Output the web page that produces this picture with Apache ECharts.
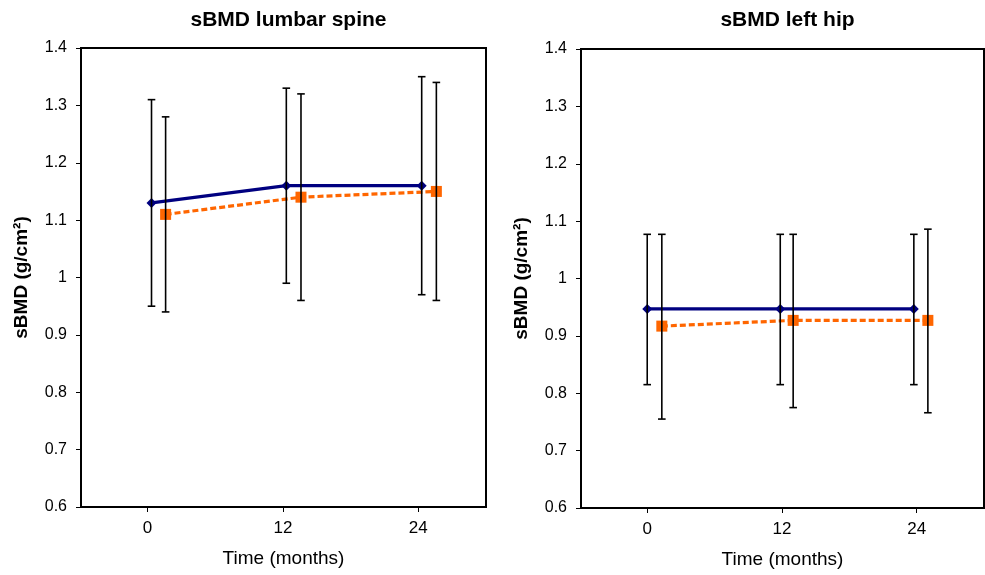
<!DOCTYPE html>
<html><head><meta charset="utf-8">
<script src="https://cdn.jsdelivr.net/npm/echarts@6/dist/echarts.min.js"></script>
<style>html,body{margin:0;background:#fff}#c{width:985px;height:575px}</style></head>
<body><div id="c"></div><script>
const titles=['sBMD lumbar spine','sBMD left hip'];
const xTicks=[0,12,24];
const yTicks=[0.6,0.7,0.8,0.9,1,1.1,1.2,1.3,1.4];
// lumbar spine
const spineBlueX=[0.35,12.3,24.3];
const spineBlue=[1.13,1.16,1.16];
const spineBlueLow=[0.95,0.99,0.97];
const spineBlueHigh=[1.31,1.33,1.35];
const spineOrangeX=[1.6,13.6,25.6];
const spineOrange=[1.11,1.14,1.15];
const spineOrangeLow=[0.94,0.96,0.96];
const spineOrangeHigh=[1.28,1.32,1.34];
// left hip
const hipBlueX=[0,11.85,23.75];
const hipBlue=[0.947,0.947,0.947];
const hipBlueLow=[0.815,0.815,0.815];
const hipBlueHigh=[1.077,1.077,1.077];
const hipOrangeX=[1.3,13.0,25.0];
const hipOrange=[0.917,0.927,0.927];
const hipOrangeLow=[0.755,0.775,0.766];
const hipOrangeHigh=[1.077,1.077,1.086];

const FONT='Liberation Sans';
const chart=echarts.init(document.getElementById('c'));
const grids=[{left:81,top:48,width:405,height:459},{left:581,top:49,width:403,height:459}];
function pts(xs,ys){return xs.map((x,i)=>[x,ys[i]]);}
function bars(xs,lo,hi){return xs.map((x,i)=>[x,lo[i],hi[i]]);}
function errSeries(idx,data){
  return {type:'custom',xAxisIndex:idx,yAxisIndex:idx,z:5,data:data,
    renderItem:function(params,api){
      const top=api.coord([api.value(0),api.value(2)]);
      const bot=api.coord([api.value(0),api.value(1)]);
      const st={stroke:'#000',lineWidth:1.6};
      const w=3.8;
      return {type:'group',children:[
        {type:'line',shape:{x1:top[0],y1:top[1],x2:bot[0],y2:bot[1]},style:st},
        {type:'line',shape:{x1:top[0]-w,y1:top[1],x2:top[0]+w,y2:top[1]},style:st},
        {type:'line',shape:{x1:bot[0]-w,y1:bot[1],x2:bot[0]+w,y2:bot[1]},style:st}
      ]};
    }};
}
function blueLine(idx,data){
  return {type:'line',xAxisIndex:idx,yAxisIndex:idx,data:data,z:3,
    symbol:'diamond',symbolSize:10,itemStyle:{color:'#000080'},
    lineStyle:{color:'#000080',width:3.2}};
}
function orangeLine(idx,data){
  return {type:'line',xAxisIndex:idx,yAxisIndex:idx,data:data,z:3,
    symbol:'rect',symbolSize:11,itemStyle:{color:'#FF6600'},
    lineStyle:{color:'#FF6600',width:3.2,type:[6,3]}};
}
const xAxes=grids.map((g,i)=>({type:'value',gridIndex:i,min:-5.9,max:30,
  name:'Time (months)',nameLocation:'middle',nameGap:42,
  nameTextStyle:{fontFamily:FONT,fontSize:19,color:'#000'},
  axisLine:{show:true,onZero:false,lineStyle:{color:'#000',width:2}},
  axisTick:{show:true,length:5,customValues:xTicks,lineStyle:{color:'#000',width:1}},
  axisLabel:{customValues:xTicks,margin:13,fontFamily:FONT,fontSize:17,color:'#000'},
  splitLine:{show:false}}));
const yAxes=grids.map((g,i)=>({type:'value',gridIndex:i,min:0.6,max:1.4,interval:0.1,
  name:'sBMD (g/cm²)',nameLocation:'middle',nameGap:50,
  nameTextStyle:{fontFamily:FONT,fontSize:19,fontWeight:'bold',color:'#000'},
  axisLine:{show:true,onZero:false,lineStyle:{color:'#000',width:2}},
  axisTick:{show:true,length:5,lineStyle:{color:'#000',width:1}},
  axisLabel:{margin:14,fontFamily:FONT,fontSize:16,color:'#000',
    formatter:v=>String(Math.round(v*10)/10)},
  splitLine:{show:false}}));
chart.setOption({
  animation:false,backgroundColor:'#fff',
  title:[
    {text:titles[0],left:283.5,top:5,textAlign:'center',textStyle:{fontFamily:FONT,fontSize:21,fontWeight:'bold',color:'#000'}},
    {text:titles[1],left:782.5,top:5,textAlign:'center',textStyle:{fontFamily:FONT,fontSize:21,fontWeight:'bold',color:'#000'}}
  ],
  grid:grids.map(g=>Object.assign({show:true,borderColor:'#000',borderWidth:2,backgroundColor:'transparent'},g)),
  xAxis:xAxes,yAxis:yAxes,
  series:[
    blueLine(0,pts(spineBlueX,spineBlue)),
    orangeLine(0,pts(spineOrangeX,spineOrange)),
    errSeries(0,bars(spineBlueX,spineBlueLow,spineBlueHigh)),
    errSeries(0,bars(spineOrangeX,spineOrangeLow,spineOrangeHigh)),
    blueLine(1,pts(hipBlueX,hipBlue)),
    orangeLine(1,pts(hipOrangeX,hipOrange)),
    errSeries(1,bars(hipBlueX,hipBlueLow,hipBlueHigh)),
    errSeries(1,bars(hipOrangeX,hipOrangeLow,hipOrangeHigh))
  ]
});
</script></body></html>
